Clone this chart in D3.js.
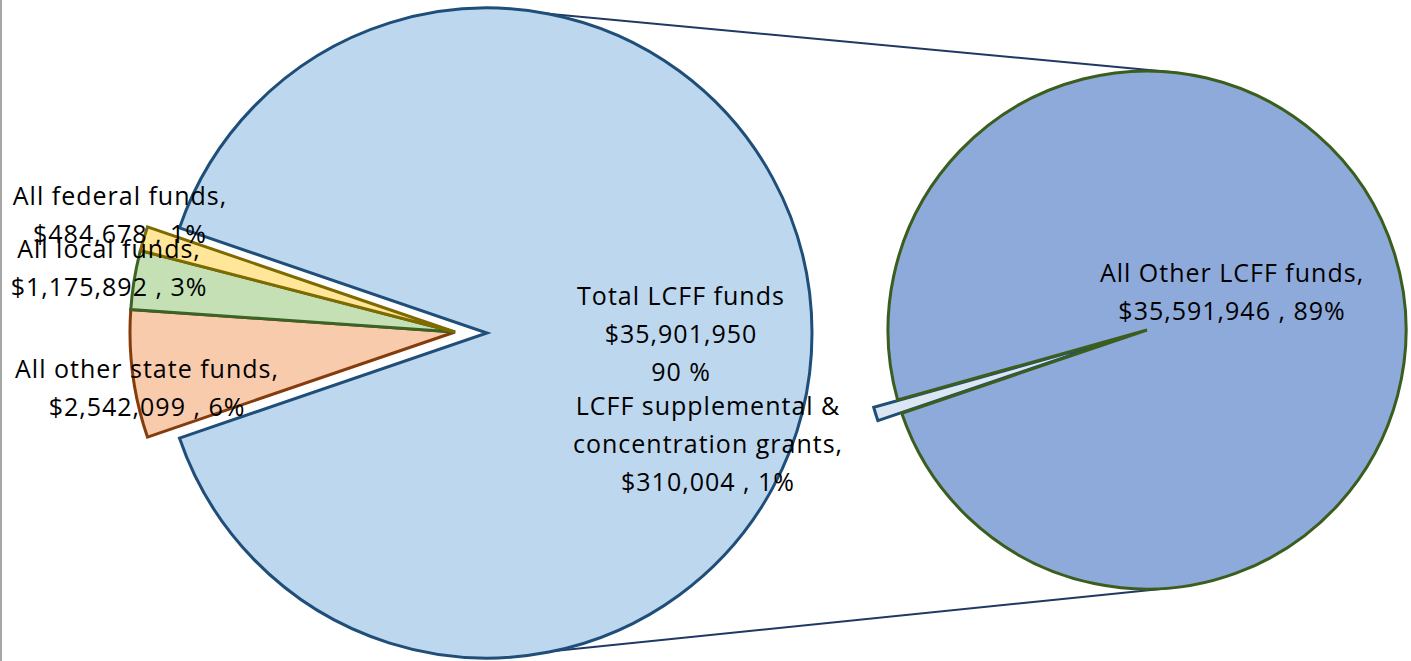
<!DOCTYPE html>
<meta charset='utf-8'>
<style type="text/css">
  body { margin: 0; background: #fff; }
  text { font-family: "Open Sans", "Liberation Sans", sans-serif; font-size: 25px; fill: #000; letter-spacing: 1px; }
</style>
<body>
<div class="chart"></div>
<script src='https://cdn.jsdelivr.net/npm/d3@7/dist/d3.min.js'></script>
<script>

// main pie, in drawing order (clockwise from the lower edge of the split)
var mainNames = ['All other state funds', 'All local funds', 'All federal funds', 'Total LCFF funds'];
var mainValues = [2542099, 1175892, 484678, 35901950];
var mainPct = [6, 3, 1, 90];

// second pie, breaking down Total LCFF funds
var subNames = ['LCFF supplemental & concentration grants', 'All Other LCFF funds'];
var subValues = [310004, 35591946];
var subPct = [1, 89];

var width = 1411, height = 661;

var svg = d3.select('.chart')
  .append('svg')
  .attr('width', width)
  .attr('height', height);

// thin grey frame line on the left
svg.append('line')
  .attr('x1', 1).attr('x2', 1)
  .attr('y1', 0).attr('y2', height)
  .attr('stroke', '#a6a6a6')
  .attr('stroke-width', 2);

var fmt = d3.format(',');

var fills = ['#f8cbad', '#c5e0b4', '#ffe699', '#bdd7ee'];
var strokes = ['#843c0c', '#3b6323', '#7f6a00', '#1f4e79'];

var mc = [487, 333], mr = 325;
var sc = [1147, 330], sr = 259;

// split the "other" slices around 9 o'clock
var mainTotal = d3.sum(mainValues);
var otherShare = (mainTotal - mainValues[3]) / mainTotal;
var mainStart = 1.5 * Math.PI - otherShare * Math.PI;

var mainPie = d3.pie().sort(null)
  .startAngle(mainStart)
  .endAngle(mainStart + 2 * Math.PI);
var mainArcs = mainPie(mainValues);

var mainArc = d3.arc().innerRadius(0).outerRadius(mr);

// connector lines, drawn below the pies
var subTopAngle = Math.asin(26 / sr);
svg.append('line')
  .attr('x1', mc[0]).attr('y1', mc[1] - mr)
  .attr('x2', sc[0] + sr * Math.sin(subTopAngle)).attr('y2', sc[1] - sr * Math.cos(subTopAngle))
  .attr('stroke', '#1f3864').attr('stroke-width', 2);
svg.append('line')
  .attr('x1', mc[0]).attr('y1', mc[1] + mr)
  .attr('x2', sc[0] + sr * Math.sin(subTopAngle)).attr('y2', sc[1] + sr * Math.cos(subTopAngle))
  .attr('stroke', '#1f3864').attr('stroke-width', 2);

var mainG = svg.append('g').attr('transform', 'translate(' + mc + ')');

// big slice
mainG.append('path')
  .attr('d', mainArc(mainArcs[3]))
  .attr('fill', fills[3])
  .attr('stroke', strokes[3])
  .attr('stroke-width', 3)
  .attr('stroke-linejoin', 'miter');

// exploded small slices, pulled out to the left
var explode = mainG.append('g').attr('transform', 'translate(-32,-1)');
[0, 1, 2].forEach(function(i){
  explode.append('path')
    .attr('d', mainArc(mainArcs[i]))
    .attr('fill', fills[i])
    .attr('stroke', strokes[i])
    .attr('stroke-width', 3)
    .attr('stroke-linejoin', 'miter');
});

// second pie
var subSpan = subValues[0] / d3.sum(subValues) * 2 * Math.PI;
var subMid = 252.8 * Math.PI / 180;
var subStart = subMid - subSpan / 2;
var subPie = d3.pie().sort(null)
  .startAngle(subStart)
  .endAngle(subStart + 2 * Math.PI);
var subArcs = subPie(subValues);
var subArc = d3.arc().innerRadius(0).outerRadius(sr);

var subG = svg.append('g').attr('transform', 'translate(' + sc + ')');

var off = 25;
subG.append('path')
  .attr('d', subArc(subArcs[0]))
  .attr('transform', 'translate(' + [off * Math.sin(subMid), -off * Math.cos(subMid)] + ')')
  .attr('fill', '#dce6f2')
  .attr('stroke', '#1f4e79')
  .attr('stroke-width', 3);

subG.append('path')
  .attr('d', subArc(subArcs[1]))
  .attr('fill', '#8eaadb')
  .attr('stroke', '#3b5e1f')
  .attr('stroke-width', 3);

// labels
function addLabel(x, y, lines){
  var t = svg.append('text')
    .attr('text-anchor', 'middle');
  lines.forEach(function(s, k){
    t.append('tspan')
      .attr('x', x)
      .attr('y', y + k * 38)
      .text(s);
  });
}

var valueLine = function(v, p){ return '$' + fmt(v) + ' , ' + p + '%'; };

addLabel(681, 305, [mainNames[3], '$' + fmt(mainValues[3]), mainPct[3] + ' %']);
addLabel(120, 205, [mainNames[2] + ',', valueLine(mainValues[2], mainPct[2])]);
addLabel(109, 258, [mainNames[1] + ',', valueLine(mainValues[1], mainPct[1])]);
addLabel(147, 378, [mainNames[0] + ',', valueLine(mainValues[0], mainPct[0])]);
addLabel(708, 415, ['LCFF supplemental &', 'concentration grants,', valueLine(subValues[0], subPct[0])]);
addLabel(1232, 282, [subNames[1] + ',', valueLine(subValues[1], subPct[1])]);

</script>
</body>
</html>
